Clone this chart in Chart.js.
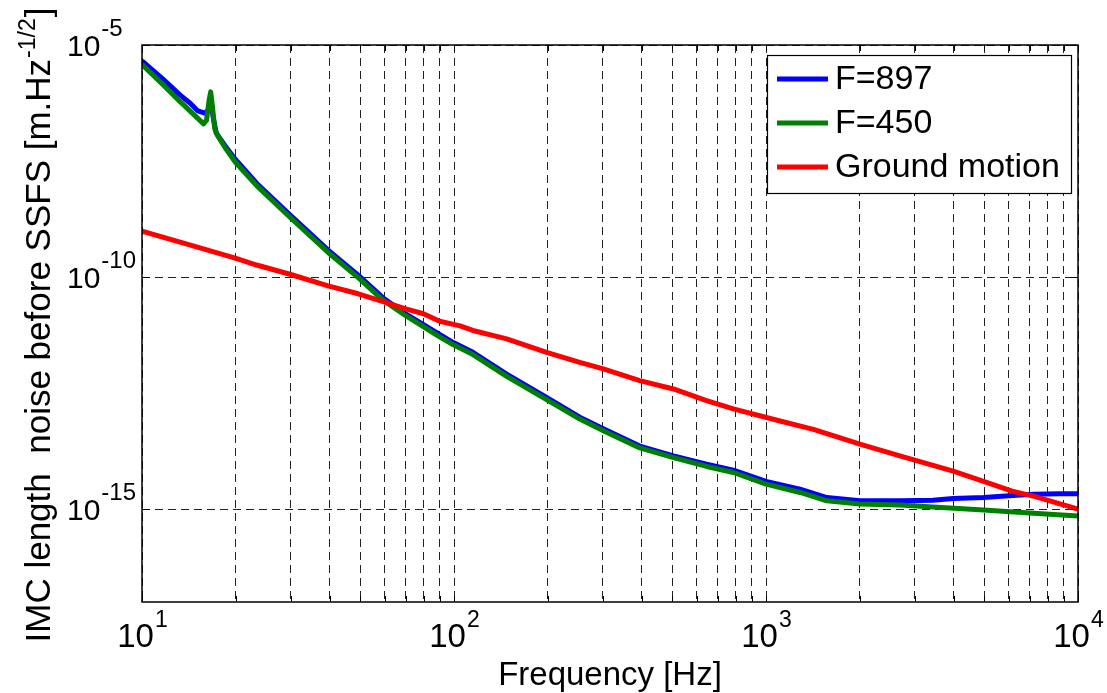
<!DOCTYPE html>
<html>
<head>
<meta charset="utf-8">
<script src="https://cdn.jsdelivr.net/npm/chart.js@4.4.1/dist/chart.umd.min.js"></script>
<style>
html,body{margin:0;padding:0;background:#fff;}
#wrap{width:1107px;height:693px;position:relative;}
</style>
</head>
<body>
<div id="wrap"><canvas id="c"></canvas></div>
<script>
// ---- data (frequency in Hz, noise in m/sqrt(Hz)) ----
const blueFreq = [10, 11.7, 13.2, 14.3, 15.1, 15.9, 16.3, 16.6, 16.9, 17.3, 18.5, 19.9, 23.3, 29.8, 39.5, 49.3, 59.3, 69.6, 89.1, 99.5, 115, 147.5, 198, 253, 301, 394, 505, 645, 786, 1000, 1286, 1567, 2000, 2686, 3430, 3980, 4980, 6360, 7200, 8750, 10000];
const blueVals = [4.57e-6, 1.82e-6, 8.51e-7, 5.50e-7, 3.80e-7, 3.39e-7, 3.98e-7, 7.08e-7, 2.82e-7, 1.26e-7, 6.61e-8, 3.47e-8, 1.05e-8, 2.19e-9, 3.80e-10, 1.10e-10, 3.55e-11, 1.66e-11, 6.03e-12, 3.89e-12, 2.40e-12, 8.13e-13, 2.57e-13, 9.55e-14, 5.37e-14, 2.29e-14, 1.41e-14, 9.33e-15, 6.92e-15, 3.98e-15, 2.69e-15, 1.78e-15, 1.51e-15, 1.51e-15, 1.55e-15, 1.70e-15, 1.78e-15, 2.00e-15, 2.09e-15, 2.14e-15, 2.14e-15];

const greenFreq = [10, 11.7, 13.2, 14.3, 15.1, 15.75, 16.1, 16.4, 16.6, 16.8, 17.1, 17.5, 18.5, 19.9, 23.3, 29.8, 39.5, 49.3, 59.3, 69.6, 89.1, 99.5, 115, 147.5, 198, 253, 301, 394, 505, 645, 786, 1000, 1286, 1567, 2000, 2686, 3430, 4980, 7200, 10000];
const greenVals = [3.80e-6, 1.38e-6, 6.17e-7, 3.72e-7, 2.63e-7, 2.00e-7, 2.40e-7, 6.31e-7, 9.77e-7, 5.01e-7, 1.58e-7, 1.10e-7, 6.03e-8, 3.02e-8, 9.33e-9, 1.95e-9, 3.39e-10, 9.77e-11, 3.16e-11, 1.51e-11, 5.37e-12, 3.47e-12, 2.14e-12, 7.24e-13, 2.29e-13, 8.71e-14, 4.90e-14, 2.09e-14, 1.29e-14, 8.32e-15, 6.17e-15, 3.47e-15, 2.29e-15, 1.51e-15, 1.29e-15, 1.23e-15, 1.12e-15, 9.55e-16, 8.13e-16, 7.08e-16];

const redFreq = [10, 14.3, 19.9, 23.3, 29.8, 39.5, 49.3, 59.3, 69.6, 79.8, 90, 104.5, 115, 147.5, 198, 253, 301, 394, 505, 645, 786, 1109, 1419, 2000, 2686, 3980, 4980, 6150, 7200, 10000];
const redVals = [9.77e-10, 4.90e-10, 2.57e-10, 1.82e-10, 1.15e-10, 6.46e-11, 4.37e-11, 2.95e-11, 2.09e-11, 1.62e-11, 1.12e-11, 8.91e-12, 7.08e-12, 4.68e-12, 2.40e-12, 1.45e-12, 1.05e-12, 5.89e-13, 3.89e-13, 2.19e-13, 1.45e-13, 7.94e-14, 5.25e-14, 2.51e-14, 1.41e-14, 6.61e-15, 3.98e-15, 2.45e-15, 1.91e-15, 1.00e-15];

const seriesLabels = ['F=897', 'F=450', 'Ground motion'];
const seriesColors = ['#0000FF', '#008000', '#FF0000'];

const xMajorTicks = [10, 100, 1000, 10000];
const xTickExps = ['1', '2', '3', '4'];
const yMajorTicks = [1e-15, 1e-10, 1e-5];
const yTickExps = ['-15', '-10', '-5'];

const xTitle = 'Frequency [Hz]';
const yTitleMain = 'IMC length  noise before SSFS [m.Hz';
const yTitleSup = '-1/2';
const yTitleEnd = ']';

// ---- build ----
const FONT = '"Liberation Sans", Arial, Helvetica, sans-serif';
function pts(fx, fy){ return fx.map((f,i)=>({x:f, y:fy[i]})); }

const xGridTicks = [];
for (let d = 10; d < 10000; d *= 10) { for (let m = 1; m <= 9; m++) xGridTicks.push(d*m); }
xGridTicks.push(10000);

const frame = {
  id: 'frame',
  afterDraw(chart){
    const ctx = chart.ctx, a = chart.chartArea;
    const xs = chart.scales.x, ys = chart.scales.y;
    ctx.save();
    // frame
    ctx.strokeStyle = '#000'; ctx.lineWidth = 1.5; ctx.setLineDash([]);
    ctx.strokeRect(a.left, a.top, a.right - a.left, a.bottom - a.top);
    // x ticks inside, top and bottom
    ctx.lineWidth = 1;
    ctx.beginPath();
    xGridTicks.forEach(v => {
      const px = Math.round(xs.getPixelForValue(v)) + 0.5;
      ctx.moveTo(px, a.bottom); ctx.lineTo(px, a.bottom - 6);
      ctx.moveTo(px, a.top); ctx.lineTo(px, a.top + 6);
    });
    yMajorTicks.forEach(v => {
      const py = Math.round(ys.getPixelForValue(v)) + 0.5;
      ctx.moveTo(a.left, py); ctx.lineTo(a.left + 8, py);
      ctx.moveTo(a.right, py); ctx.lineTo(a.right - 8, py);
    });
    ctx.stroke();

    ctx.fillStyle = '#000';
    ctx.textBaseline = 'alphabetic';
    // x tick labels
    xMajorTicks.forEach((v, i) => {
      const px = xs.getPixelForValue(v);
      ctx.font = '33px ' + FONT;
      const w1 = ctx.measureText('10').width;
      ctx.font = '23px ' + FONT;
      const w2 = ctx.measureText(xTickExps[i]).width;
      const x0 = px - (w1 + w2) / 2;
      ctx.font = '33px ' + FONT; ctx.textAlign = 'left';
      ctx.fillText('10', x0, 647);
      ctx.font = '23px ' + FONT;
      ctx.fillText(xTickExps[i], x0 + w1 + 1, 627);
    });
    // y tick labels
    yMajorTicks.forEach((v, i) => {
      const py = ys.getPixelForValue(v);
      ctx.font = '30px ' + FONT; ctx.textAlign = 'left';
      const w1 = ctx.measureText('10').width;
      ctx.fillText('10', 67, py + 11);
      ctx.font = '24px ' + FONT;
      ctx.fillText(yTickExps[i], 67 + w1 + 1, py - 9);
    });
    // x title
    ctx.font = '33px ' + FONT; ctx.textAlign = 'center';
    ctx.fillText(xTitle, (a.left + a.right) / 2, 685);
    // y title (rotated)
    ctx.save();
    ctx.translate(50, 325);
    ctx.rotate(-Math.PI / 2);
    ctx.textAlign = 'left';
    ctx.font = '35px ' + FONT;
    const m1 = ctx.measureText(yTitleMain).width;
    const m3 = ctx.measureText(yTitleEnd).width;
    ctx.font = '23px ' + FONT;
    const m2 = ctx.measureText(yTitleSup).width;
    let sx = -(m1 + m2 + m3 + 2) / 2;
    ctx.font = '35px ' + FONT;
    ctx.fillText(yTitleMain, sx, 0);
    sx += m1 + 1;
    ctx.font = '23px ' + FONT;
    ctx.fillText(yTitleSup, sx, -15);
    sx += m2 + 1;
    ctx.font = '35px ' + FONT;
    ctx.fillText(yTitleEnd, sx, 0);
    ctx.restore();

    // legend
    const lx = 767, ly = 55, lw = 304, lh = 138;
    ctx.fillStyle = '#fff';
    ctx.fillRect(lx, ly, lw, lh);
    ctx.strokeStyle = '#000'; ctx.lineWidth = 1.2;
    ctx.strokeRect(lx + 0.5, ly + 0.5, lw, lh);
    const rowY = [79, 123, 167];
    seriesLabels.forEach((lab, i) => {
      ctx.strokeStyle = seriesColors[i]; ctx.lineWidth = 5;
      ctx.beginPath(); ctx.moveTo(777, rowY[i]); ctx.lineTo(828, rowY[i]); ctx.stroke();
      ctx.fillStyle = '#000'; ctx.font = '34px ' + FONT;
      ctx.textAlign = 'left'; ctx.textBaseline = 'middle';
      ctx.fillText(lab, 835, rowY[i] + 1);
    });
    ctx.restore();
  }
};

const gridCommon = { color: '#222', lineWidth: 1, drawTicks: false };

new Chart(document.getElementById('c'), {
  type: 'line',
  data: {
    datasets: [
      { label: seriesLabels[0], data: pts(blueFreq, blueVals), borderColor: seriesColors[0], borderWidth: 5, pointRadius: 0, tension: 0, order: 3, borderJoinStyle: 'round' },
      { label: seriesLabels[1], data: pts(greenFreq, greenVals), borderColor: seriesColors[1], borderWidth: 5, pointRadius: 0, tension: 0, order: 2, borderJoinStyle: 'round' },
      { label: seriesLabels[2], data: pts(redFreq, redVals), borderColor: seriesColors[2], borderWidth: 5, pointRadius: 0, tension: 0, order: 1, borderJoinStyle: 'round' }
    ]
  },
  options: {
    responsive: true,
    maintainAspectRatio: false,
    animation: false,
    events: [],
    layout: { padding: { left: 142, right: 29, top: 45, bottom: 91 } },
    plugins: { legend: { display: false }, tooltip: { enabled: false } },
    scales: {
      x: {
        type: 'logarithmic', min: 10, max: 10000,
        afterBuildTicks: s => { s.ticks = xGridTicks.map(v => ({ value: v })); },
        ticks: { display: false },
        grid: gridCommon,
        border: { display: false, dash: [8, 5] },
        title: { display: false }
      },
      y: {
        type: 'logarithmic', min: 1e-17, max: 1e-5,
        afterBuildTicks: s => { s.ticks = yMajorTicks.map(v => ({ value: v })); },
        ticks: { display: false },
        grid: gridCommon,
        border: { display: false, dash: [8, 5] },
        title: { display: false }
      }
    }
  },
  plugins: [frame]
});
</script>
</body>
</html>
